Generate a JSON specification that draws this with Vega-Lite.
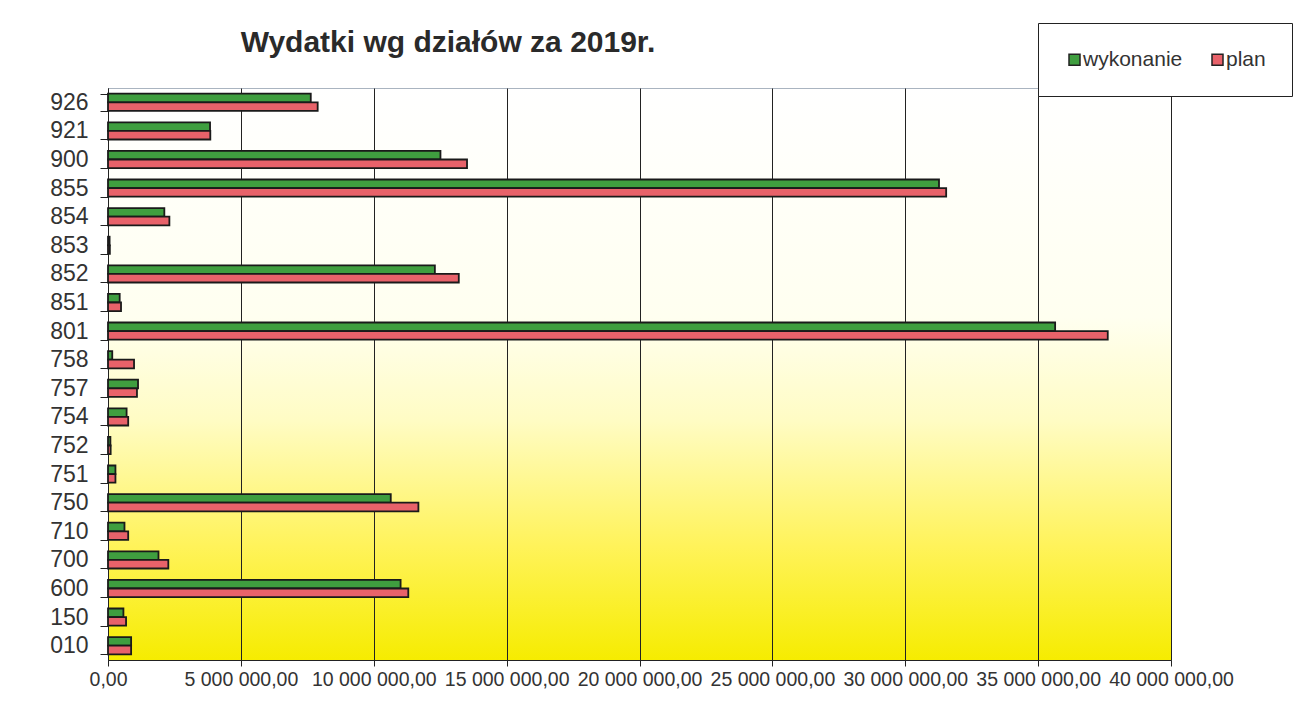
{
  "$schema": "https://vega.github.io/schema/vega-lite/v6.json",
  "autosize": {"type": "none"},
  "width": 1063,
  "height": 572,
  "padding": {"left": 108, "top": 88, "right": 132, "bottom": 55},
  "background": "#ffffff",
  "title": {
    "text": "Wydatki wg działów za 2019r.",
    "anchor": "start",
    "dx": 191,
    "offset": -35,
    "font": "Liberation Sans",
    "fontSize": 30,
    "fontWeight": "bold",
    "color": "#2a2a2a"
  },
  "data": {
    "values": [
      {"dzial": "926", "seria": "wykonanie", "kwota": 7630000},
      {"dzial": "926", "seria": "plan", "kwota": 7890000},
      {"dzial": "921", "seria": "wykonanie", "kwota": 3840000},
      {"dzial": "921", "seria": "plan", "kwota": 3850000},
      {"dzial": "900", "seria": "wykonanie", "kwota": 12510000},
      {"dzial": "900", "seria": "plan", "kwota": 13510000},
      {"dzial": "855", "seria": "wykonanie", "kwota": 31270000},
      {"dzial": "855", "seria": "plan", "kwota": 31540000},
      {"dzial": "854", "seria": "wykonanie", "kwota": 2120000},
      {"dzial": "854", "seria": "plan", "kwota": 2310000},
      {"dzial": "853", "seria": "wykonanie", "kwota": 60000},
      {"dzial": "853", "seria": "plan", "kwota": 70000},
      {"dzial": "852", "seria": "wykonanie", "kwota": 12300000},
      {"dzial": "852", "seria": "plan", "kwota": 13200000},
      {"dzial": "851", "seria": "wykonanie", "kwota": 440000},
      {"dzial": "851", "seria": "plan", "kwota": 490000},
      {"dzial": "801", "seria": "wykonanie", "kwota": 35640000},
      {"dzial": "801", "seria": "plan", "kwota": 37620000},
      {"dzial": "758", "seria": "wykonanie", "kwota": 160000},
      {"dzial": "758", "seria": "plan", "kwota": 980000},
      {"dzial": "757", "seria": "wykonanie", "kwota": 1130000},
      {"dzial": "757", "seria": "plan", "kwota": 1090000},
      {"dzial": "754", "seria": "wykonanie", "kwota": 700000},
      {"dzial": "754", "seria": "plan", "kwota": 760000},
      {"dzial": "752", "seria": "wykonanie", "kwota": 90000},
      {"dzial": "752", "seria": "plan", "kwota": 100000},
      {"dzial": "751", "seria": "wykonanie", "kwota": 280000},
      {"dzial": "751", "seria": "plan", "kwota": 280000},
      {"dzial": "750", "seria": "wykonanie", "kwota": 10640000},
      {"dzial": "750", "seria": "plan", "kwota": 11680000},
      {"dzial": "710", "seria": "wykonanie", "kwota": 620000},
      {"dzial": "710", "seria": "plan", "kwota": 760000},
      {"dzial": "700", "seria": "wykonanie", "kwota": 1900000},
      {"dzial": "700", "seria": "plan", "kwota": 2270000},
      {"dzial": "600", "seria": "wykonanie", "kwota": 11010000},
      {"dzial": "600", "seria": "plan", "kwota": 11300000},
      {"dzial": "150", "seria": "wykonanie", "kwota": 580000},
      {"dzial": "150", "seria": "plan", "kwota": 680000},
      {"dzial": "010", "seria": "wykonanie", "kwota": 870000},
      {"dzial": "010", "seria": "plan", "kwota": 870000}
    ]
  },
  "mark": {"type": "bar", "stroke": "#1a1a1a", "strokeWidth": 1.8},
  "encoding": {
    "y": {
      "field": "dzial",
      "type": "nominal",
      "sort": ["926","921","900","855","854","853","852","851","801","758","757","754","752","751","750","710","700","600","150","010"],
      "scale": {"paddingInner": 0.4, "paddingOuter": 0.2},
      "axis": {
        "title": null,
        "tickBand": "extent",
        "tickSize": 8,
        "tickColor": "#222",
        "domainColor": "#222",
        "labelPadding": 12,
        "labelFont": "Liberation Sans",
        "labelFontSize": 23,
        "labelColor": "#333"
      }
    },
    "yOffset": {
      "field": "seria",
      "type": "nominal",
      "sort": ["wykonanie", "plan"],
      "scale": {"paddingInner": 0, "paddingOuter": 0}
    },
    "x": {
      "field": "kwota",
      "type": "quantitative",
      "scale": {"domain": [0, 40000000], "nice": false},
      "axis": {
        "title": null,
        "values": [0,5000000,10000000,15000000,20000000,25000000,30000000,35000000,40000000],
        "format": ",.2f",
        "labelOverlap": false,
        "labelFlush": false,
        "labelBound": false,
        "labelFont": "Liberation Sans",
        "labelFontSize": 19.5,
        "labelColor": "#333",
        "labelPadding": 4,
        "tickSize": 6,
        "tickColor": "#222",
        "domainColor": "#222",
        "grid": true,
        "gridColor": "#222",
        "gridWidth": 1
      }
    },
    "color": {
      "field": "seria",
      "type": "nominal",
      "scale": {"domain": ["wykonanie", "plan"], "range": ["#3f9e3f", "#e8626a"]},
      "legend": {
        "title": null,
        "orient": "none",
        "legendX": 930,
        "legendY": -65,
        "direction": "horizontal",
        "padding": 26,
        "strokeColor": "#222",
        "fillColor": "#ffffff",
        "symbolType": "square",
        "symbolSize": 121,
        "symbolStrokeColor": "#222",
        "symbolStrokeWidth": 1.5,
        "labelFont": "Liberation Sans",
        "labelFontSize": 21,
        "labelColor": "#333",
        "labelOffset": -2,
        "columnPadding": 24
      }
    }
  },
  "config": {
    "locale": {
      "number": {"decimal": ",", "thousands": " ", "grouping": [3], "currency": ["", ""]}
    },
    "view": {
      "stroke": "#aab4c0",
      "strokeWidth": 1,
      "fill": {
        "gradient": "linear",
        "x1": 0, "y1": 0, "x2": 0, "y2": 1,
        "stops": [
          {"offset": 0, "color": "#ffffff"},
          {"offset": 0.4, "color": "#fffff0"},
          {"offset": 0.58, "color": "#fffcc4"},
          {"offset": 0.8, "color": "#fff35a"},
          {"offset": 1, "color": "#f6ec00"}
        ]
      }
    }
  }
}
